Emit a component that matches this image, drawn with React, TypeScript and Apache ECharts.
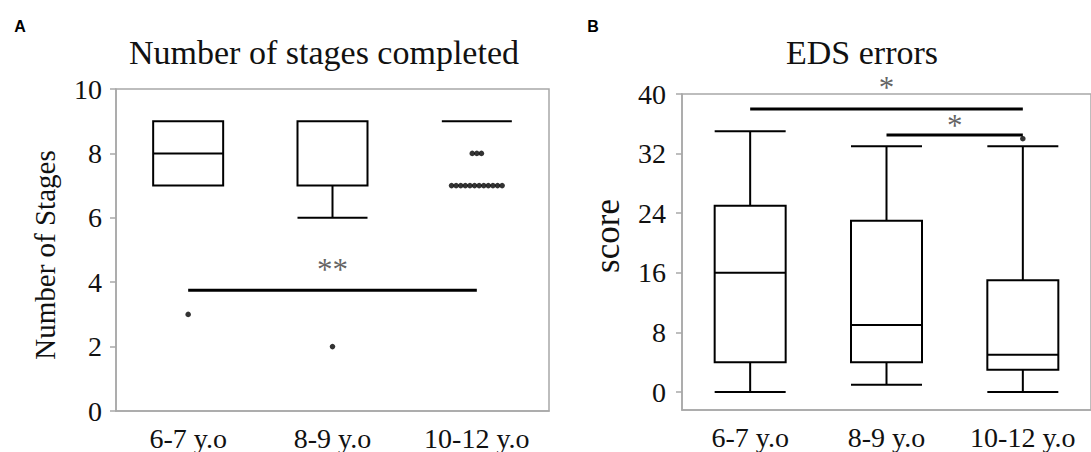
import React, { useEffect, useRef } from "react";
import * as echarts from "echarts";

// ---- data ----
const categories = ["6-7 y.o", "8-9 y.o", "10-12 y.o"];

// Panel A: Number of stages completed  [min, Q1, median, Q3, max]
const stagesBox = [
  [7, 7, 8, 9, 9],
  [6, 7, 9, 9, 9],
  [9, 9, 9, 9, 9],
];
// outliers per category
const stagesOutliers = [
  [3],
  [2],
  [8, 8, 8, 7, 7, 7, 7, 7, 7, 7, 7, 7, 7, 7, 7],
];
const stagesTicks = [0, 2, 4, 6, 8, 10];
// significance bars: from index, to index, level, star position, text
const stagesSig = [{ from: 0, to: 2, y: 3.75, sx: 1, sy: 4.4, text: "**" }];

// Panel B: EDS errors
const edsBox = [
  [0, 4, 16, 25, 35],
  [1, 4, 9, 23, 33],
  [0, 3, 5, 15, 33],
];
const edsOutliers = [[], [], [34]];
const edsTicks = [0, 8, 16, 24, 32, 40];
const edsSig = [
  { from: 0, to: 2, y: 38, sx: 1, sy: 40.9, text: "*" },
  { from: 1, to: 2, y: 34.5, sx: 1.5, sy: 35.8, text: "*" },
];

const SERIF = "'Liberation Serif', 'Times New Roman', serif";
const AXIS_GRAY = "#a8a8a8";
const TXT = "#111";

function outlierData(groups: number[][]) {
  const out: any[] = [];
  groups.forEach((vals, ci) => {
    const counts: Record<string, number> = {};
    vals.forEach((v) => (counts[v] = (counts[v] || 0) + 1));
    const seen: Record<string, number> = {};
    vals.forEach((v) => {
      const n = counts[v];
      const i = seen[v] || 0;
      seen[v] = i + 1;
      out.push({ value: [ci, v], symbolOffset: [(i - (n - 1) / 2) * 4.6, 0] });
    });
  });
  return out;
}

function sigSeries(sig: any[], xAxisIndex: number, yAxisIndex: number) {
  const s: any[] = [];
  sig.forEach((g) => {
    s.push({
      type: "line",
      xAxisIndex,
      yAxisIndex,
      data: [
        [g.from, g.y],
        [g.to, g.y],
      ],
      symbol: "none",
      lineStyle: { color: "#000", width: 3 },
      silent: true,
      clip: false,
    });
  });
  s.push({
    type: "scatter",
    xAxisIndex,
    yAxisIndex,
    clip: false,
    symbolSize: 1,
    itemStyle: { color: "rgba(0,0,0,0)" },
    data: sig.map((g) => ({ value: [g.sx, g.sy], name: g.text })),
    label: {
      show: true,
      position: "inside",
      formatter: (p: any) => p.name,
      fontFamily: SERIF,
      fontSize: 31,
      color: "#3a3a3a",
    },
  });
  return s;
}

function catAxis(gridIndex: number) {
  return {
    type: "category",
    gridIndex,
    data: categories,
    axisLine: { show: true, onZero: false, lineStyle: { color: AXIS_GRAY, width: 1.5 } },
    axisTick: { show: false },
    axisLabel: { fontFamily: SERIF, fontSize: 28, color: TXT, margin: 13, interval: 0 },
  };
}

function hiddenAxis(gridIndex: number) {
  return { type: "value", gridIndex, min: -0.5, max: 2.5, show: false, axisLine: { onZero: false } };
}

export default function App() {
  const ref = useRef<HTMLDivElement>(null);

  useEffect(() => {
    if (!ref.current) return;
    const chart = echarts.init(ref.current, undefined, { renderer: "svg" });
    const option: any = {
      animation: false,
      backgroundColor: "#fff",
      grid: [
        { left: 116, top: 89, width: 433, height: 325, show: true, borderColor: AXIS_GRAY, borderWidth: 1.5 },
        { left: 682, top: 94, width: 417, height: 316, show: true, borderColor: AXIS_GRAY, borderWidth: 1.5 },
      ],
      xAxis: [catAxis(0), hiddenAxis(0), catAxis(1), hiddenAxis(1)],
      yAxis: [
        {
          type: "value",
          gridIndex: 0,
          min: stagesTicks[0],
          max: stagesTicks[stagesTicks.length - 1],
          interval: 2,
          axisLine: { show: true, onZero: false, lineStyle: { color: AXIS_GRAY, width: 1.5 } },
          axisTick: { show: true, length: 6, lineStyle: { color: AXIS_GRAY, width: 1.5 } },
          splitLine: { show: false },
          axisLabel: { fontFamily: SERIF, fontSize: 28, color: TXT, margin: 14 },
        },
        {
          type: "value",
          gridIndex: 1,
          min: -2.4,
          max: edsTicks[edsTicks.length - 1],
          axisLine: { show: true, onZero: false, lineStyle: { color: AXIS_GRAY, width: 1.5 } },
          axisTick: { show: true, length: 6, customValues: edsTicks, lineStyle: { color: AXIS_GRAY, width: 1.5 } },
          splitLine: { show: false },
          axisLabel: { fontFamily: SERIF, fontSize: 28, color: TXT, margin: 16, customValues: edsTicks },
        },
      ],
      graphic: [
        { type: "text", x: 20, y: 26, style: { text: "A", font: "bold 16px 'Liberation Sans', Arial, sans-serif", fill: "#000", align: "center", verticalAlign: "middle" } },
        { type: "text", x: 593, y: 26, style: { text: "B", font: "bold 16px 'Liberation Sans', Arial, sans-serif", fill: "#000", align: "center", verticalAlign: "middle" } },
        { type: "text", x: 324, y: 52, style: { text: "Number of stages completed", fontFamily: SERIF, fontSize: 34, fill: TXT, align: "center", verticalAlign: "middle" } },
        { type: "text", x: 862, y: 52, style: { text: "EDS errors", fontFamily: SERIF, fontSize: 34, fill: TXT, align: "center", verticalAlign: "middle" } },
        { type: "text", x: 45, y: 255, rotation: Math.PI / 2, style: { text: "Number of Stages", fontFamily: SERIF, fontSize: 29, fill: TXT, align: "center", verticalAlign: "middle" } },
        { type: "text", x: 607, y: 236, rotation: Math.PI / 2, style: { text: "score", fontFamily: SERIF, fontSize: 35, fill: TXT, align: "center", verticalAlign: "middle" } },
      ],
      series: [
        {
          type: "boxplot",
          xAxisIndex: 0,
          yAxisIndex: 0,
          data: stagesBox,
          boxWidth: [70, 70],
          itemStyle: { color: "#fff", borderColor: "#000", borderWidth: 2 },
          silent: true,
        },
        {
          type: "scatter",
          xAxisIndex: 0,
          yAxisIndex: 0,
          data: outlierData(stagesOutliers),
          symbolSize: 5.5,
          itemStyle: { color: "#000" },
        },
        ...sigSeries(stagesSig, 1, 0),
        {
          type: "boxplot",
          xAxisIndex: 2,
          yAxisIndex: 1,
          data: edsBox,
          boxWidth: [71, 71],
          itemStyle: { color: "#fff", borderColor: "#000", borderWidth: 2 },
          silent: true,
        },
        {
          type: "scatter",
          xAxisIndex: 2,
          yAxisIndex: 1,
          data: outlierData(edsOutliers),
          symbolSize: 5.5,
          clip: false,
          itemStyle: { color: "#000" },
        },
        ...sigSeries(edsSig, 3, 1),
      ],
    };
    chart.setOption(option);
    return () => chart.dispose();
  }, []);

  return (
    <div
      ref={ref}
      style={{ position: "absolute", left: 0, top: 0, width: 1091, height: 452 }}
    />
  );
}
